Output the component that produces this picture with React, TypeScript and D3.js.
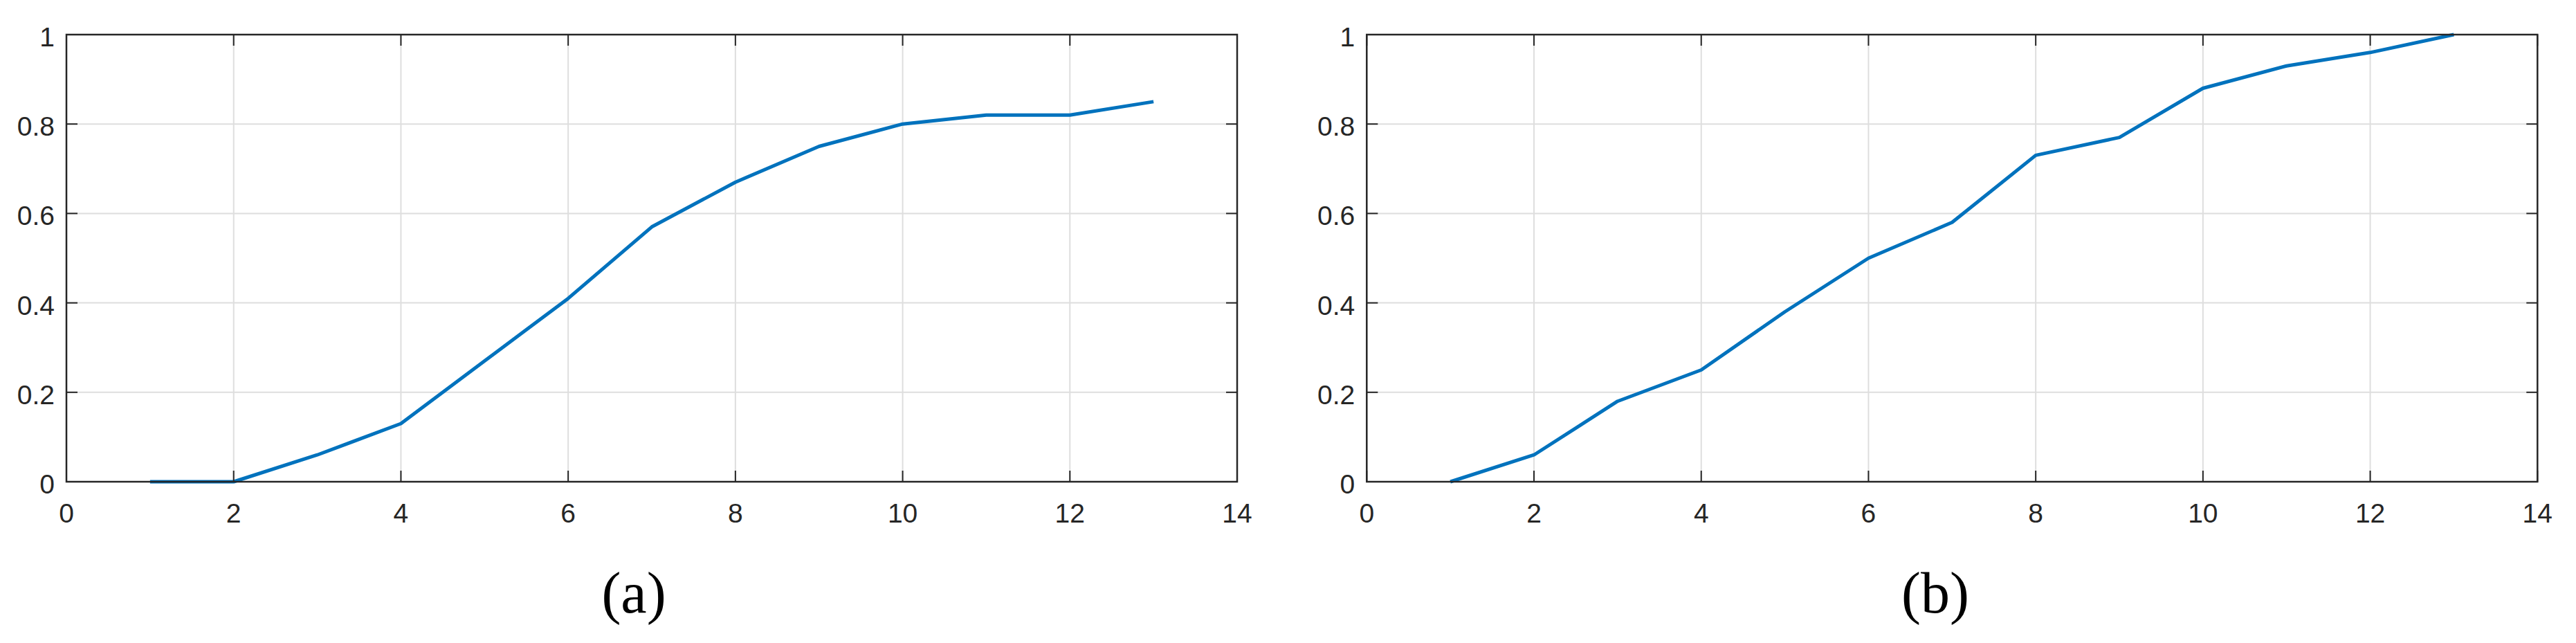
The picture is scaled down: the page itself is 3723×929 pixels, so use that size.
import React from "react";
import * as d3 from "d3";

const xValues = [1, 2, 3, 4, 5, 6, 7, 8, 9, 10, 11, 12, 13];
const seriesA = [0, 0, 0.06, 0.13, 0.27, 0.41, 0.57, 0.67, 0.75, 0.8, 0.82, 0.82, 0.85];
const seriesB = [0, 0.06, 0.18, 0.25, 0.38, 0.5, 0.58, 0.73, 0.77, 0.88, 0.93, 0.96, 1.0];
const xTicks = [0, 2, 4, 6, 8, 10, 12, 14];
const yTicks = [0, 0.2, 0.4, 0.6, 0.8, 1];
const yTickLabels = ["0", "0.2", "0.4", "0.6", "0.8", "1"];
const captions = ["(a)", "(b)"];

const W = 3723;
const H = 929;
const TOP = 50;
const BOTTOM = 696;
const PANELS = [
  { left: 96, right: 1788, data: seriesA, caption: captions[0], capX: 916 },
  { left: 1975.3, right: 3667.3, data: seriesB, caption: captions[1], capX: 2797 },
];

const AXIS = "#262626";
const GRID = "#dedede";
const LINE = "#0072BD";
const FONT = "'Liberation Sans', Arial, Helvetica, sans-serif";

function Panel({ left, right, data, caption, capX }: any) {
  const x = d3.scaleLinear().domain([0, 14]).range([left, right]);
  const y = d3.scaleLinear().domain([0, 1]).range([BOTTOM, TOP]);
  const line = d3
    .line<number>()
    .x((_, i) => x(xValues[i]))
    .y((d) => y(d));
  const tickLen = 16;
  return (
    <g>
      {/* grid */}
      {xTicks.slice(1, -1).map((t) => (
        <line key={"gx" + t} x1={x(t)} x2={x(t)} y1={TOP} y2={BOTTOM} stroke={GRID} strokeWidth={2} />
      ))}
      {yTicks.slice(1, -1).map((t) => (
        <line key={"gy" + t} x1={left} x2={right} y1={y(t)} y2={y(t)} stroke={GRID} strokeWidth={2} />
      ))}
      {/* data line */}
      <path d={line(data) || ""} fill="none" stroke={LINE} strokeWidth={5} strokeLinejoin="round" />
      {/* ticks */}
      {xTicks.map((t) => (
        <g key={"tx" + t}>
          <line x1={x(t)} x2={x(t)} y1={BOTTOM} y2={BOTTOM - tickLen} stroke={AXIS} strokeWidth={2} />
          <line x1={x(t)} x2={x(t)} y1={TOP} y2={TOP + tickLen} stroke={AXIS} strokeWidth={2} />
          <text x={x(t)} y={BOTTOM + 59} textAnchor="middle" fontFamily={FONT} fontSize={39} fill={AXIS}>
            {t}
          </text>
        </g>
      ))}
      {yTicks.map((t, i) => (
        <g key={"ty" + t}>
          <line x1={left} x2={left + tickLen} y1={y(t)} y2={y(t)} stroke={AXIS} strokeWidth={2} />
          <line x1={right} x2={right - tickLen} y1={y(t)} y2={y(t)} stroke={AXIS} strokeWidth={2} />
          <text x={left - 17} y={y(t) + 17} textAnchor="end" fontFamily={FONT} fontSize={39} fill={AXIS}>
            {yTickLabels[i]}
          </text>
        </g>
      ))}
      {/* box */}
      <rect x={left} y={TOP} width={right - left} height={BOTTOM - TOP} fill="none" stroke={AXIS} strokeWidth={2.5} />
      <text x={capX} y={885} textAnchor="middle" fontFamily="'Liberation Serif', 'Times New Roman', serif" fontSize={84} fill="#000">
        {caption}
      </text>
    </g>
  );
}

export default function App() {
  return (
    <svg
      width={W}
      height={H}
      viewBox={`0 0 ${W} ${H}`}
      style={{ position: "absolute", left: 0, top: 0, background: "#fff" }}
    >
      <rect x={0} y={0} width={W} height={H} fill="#fff" />
      {PANELS.map((p, i) => (
        <Panel key={i} {...p} />
      ))}
    </svg>
  );
}
